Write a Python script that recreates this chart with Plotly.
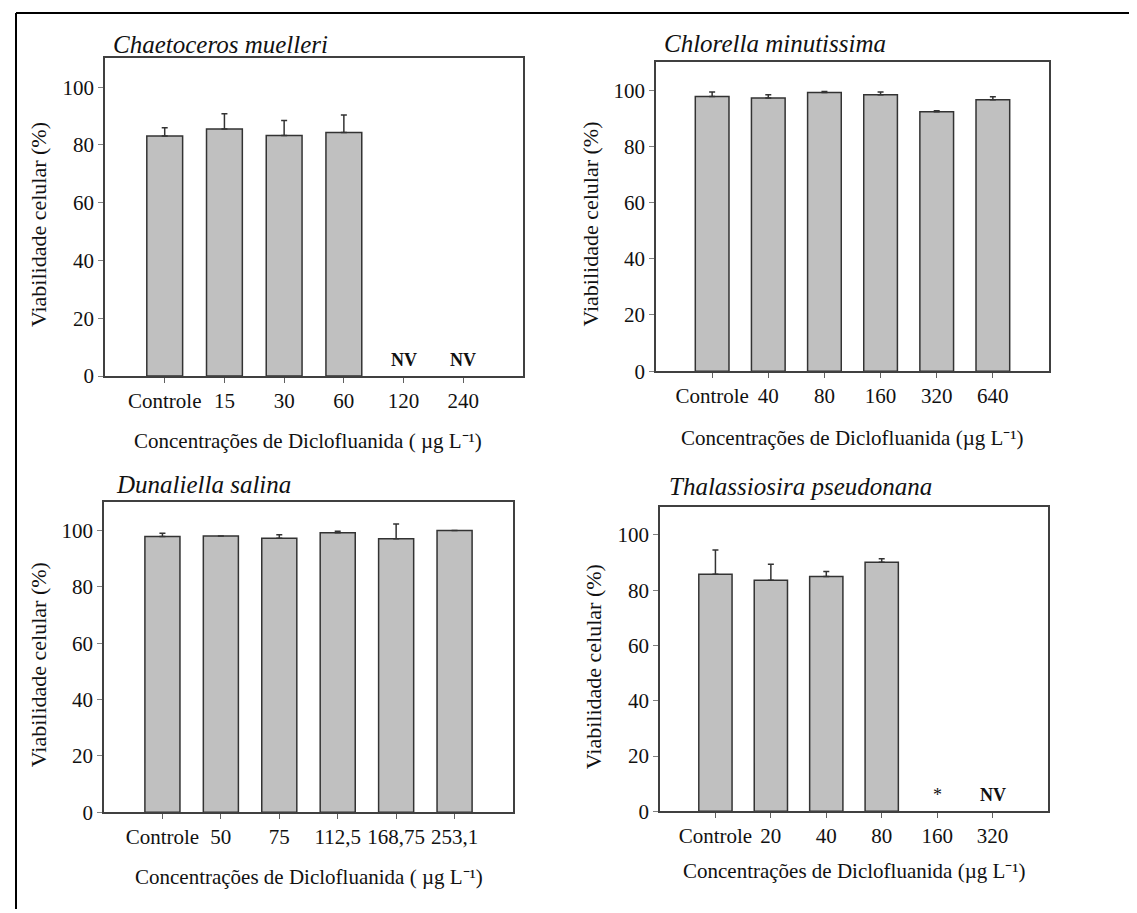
import plotly.graph_objects as go

W, H = 1137, 913

# ---- data ----
titles = ["Chaetoceros muelleri", "Chlorella minutissima", "Dunaliella salina", "Thalassiosira pseudonana"]
cats_cm = ["Controle", "15", "30", "60", "120", "240"]
vals_cm = [83.1, 85.5, 83.3, 84.3, None, None]
err_cm = [2.9, 5.3, 5.2, 6.1, 0, 0]
notes_cm = ["", "", "", "", "NV", "NV"]

cats_chl = ["Controle", "40", "80", "160", "320", "640"]
vals_chl = [97.8, 97.3, 99.2, 98.4, 92.4, 96.7]
err_chl = [1.6, 1.1, 0.4, 1.0, 0.3, 1.0]
notes_chl = ["", "", "", "", "", ""]

cats_ds = ["Controle", "50", "75", "112,5", "168,75", "253,1"]
vals_ds = [97.9, 98.1, 97.3, 99.2, 97.1, 100.0]
err_ds = [1.2, 0.0, 1.2, 0.6, 5.2, 0.0]
notes_ds = ["", "", "", "", "", ""]

cats_tp = ["Controle", "20", "40", "80", "160", "320"]
vals_tp = [85.8, 83.6, 85.0, 90.1, None, None]
err_tp = [8.8, 5.8, 1.8, 1.3, 0, 0]
notes_tp = ["", "", "", "", "*", "NV"]

xlabels = ["Concentrações de Diclofluanida ( µg L⁻¹)", "Concentrações de Diclofluanida (µg L⁻¹)",
           "Concentrações de Diclofluanida ( µg L⁻¹)", "Concentrações de Diclofluanida (µg L⁻¹)"]
ylabel = "Viabilidade celular (%)"
yticks = [0, 20, 40, 60, 80, 100]

panels = [
    (cats_cm, vals_cm, err_cm, notes_cm),
    (cats_chl, vals_chl, err_chl, notes_chl),
    (cats_ds, vals_ds, err_ds, notes_ds),
    (cats_tp, vals_tp, err_tp, notes_tp),
]

# ---- layout geometry (pixels) ----
boxes = [  # left, right, top, bottom
    (97, 515, 51, 373),
    (648, 1041, 55, 368),
    (96, 505, 501, 815),
    (652, 1040, 506, 814),
]
title_pos = [(103, 37), (654, 36), (106, 483), (659, 485)]
xtitle_y = [439, 436, 881, 874]
xtitle_dx = [-6, 0, 0, 0]
ytitle_x = [30, 583, 30, 585]

FONT = "Liberation Serif"
TXT = "#111111"
fig = go.Figure()
annotations = []

def px_x(x):
    return x / W

def px_y(y):
    return 1 - y / H

for i, (cats, vals, errs, notes) in enumerate(panels):
    n = i + 1
    xa = "x" if n == 1 else f"x{n}"
    ya = "y" if n == 1 else f"y{n}"
    pos = list(range(len(cats)))
    fig.add_trace(go.Bar(
        x=pos, y=vals, xaxis=xa, yaxis=ya, width=0.6,
        marker=dict(color="#c0c0c0", line=dict(color="#333333", width=1.5)),
        error_y=dict(type="data", array=errs, arrayminus=[0] * len(errs), symmetric=False,
                     color="#333333", thickness=1.5, width=3),
        showlegend=False, hoverinfo="skip",
    ))
    l, r, t, b = boxes[i]
    axx = dict(domain=[px_x(l), px_x(r)], anchor=ya, range=[-1, 6],
               tickvals=pos, ticktext=cats,
               showline=True, mirror=True, linecolor="#404040", linewidth=1.5,
               ticks="outside", ticklen=5, tickcolor="#606060", tickwidth=1,
               tickfont=dict(family=FONT, size=21, color=TXT), showgrid=False, zeroline=False)
    axy = dict(domain=[px_y(b), px_y(t)], anchor=xa, range=[0, 110], tickvals=yticks,
               showline=True, mirror=True, linecolor="#404040", linewidth=1.5,
               ticks="outside", ticklen=5, tickcolor="#808080", tickwidth=1,
               tickfont=dict(family=FONT, size=21, color=TXT), showgrid=False, zeroline=False)
    fig.update_layout(**{("xaxis" if n == 1 else f"xaxis{n}"): axx,
                         ("yaxis" if n == 1 else f"yaxis{n}"): axy})
    # notes (NV / *)
    for p, note in zip(pos, notes):
        if note:
            annotations.append(dict(x=p, y=0, xref=xa, yref=ya,
                                    text=f"<b>{note}</b>" if note != "*" else note,
                                    showarrow=False, yanchor="bottom", yshift=4,
                                    font=dict(family=FONT, size=18, color=TXT)))
    # title
    tx, ty = title_pos[i]
    annotations.append(dict(x=px_x(tx), y=px_y(ty), xref="paper", yref="paper", text=f"<i>{titles[i]}</i>",
                            showarrow=False, xanchor="left", yanchor="middle",
                            font=dict(family=FONT, size=25, color=TXT)))
    # x title
    annotations.append(dict(x=px_x((l + r) / 2 + xtitle_dx[i]), y=px_y(xtitle_y[i]), xref="paper", yref="paper",
                            text=xlabels[i], showarrow=False, xanchor="center", yanchor="middle",
                            font=dict(family=FONT, size=21, color=TXT)))
    # y title
    annotations.append(dict(x=px_x(ytitle_x[i]), y=px_y((t + b) / 2 + 8), xref="paper", yref="paper",
                            text=ylabel, showarrow=False, textangle=-90, xanchor="center", yanchor="middle",
                            font=dict(family=FONT, size=22, color=TXT)))

fig.update_layout(
    width=W, height=H, margin=dict(l=0, r=0, t=0, b=0),
    paper_bgcolor="white", plot_bgcolor="white",
    annotations=annotations,
    shapes=[
        dict(type="line", xref="paper", yref="paper", x0=px_x(8), x1=px_x(8), y0=0, y1=px_y(5),
             line=dict(color="black", width=2)),
        dict(type="line", xref="paper", yref="paper", x0=px_x(8), x1=1, y0=px_y(5), y1=px_y(5),
             line=dict(color="black", width=2)),
    ],
)

fig.write_html("out.html")
